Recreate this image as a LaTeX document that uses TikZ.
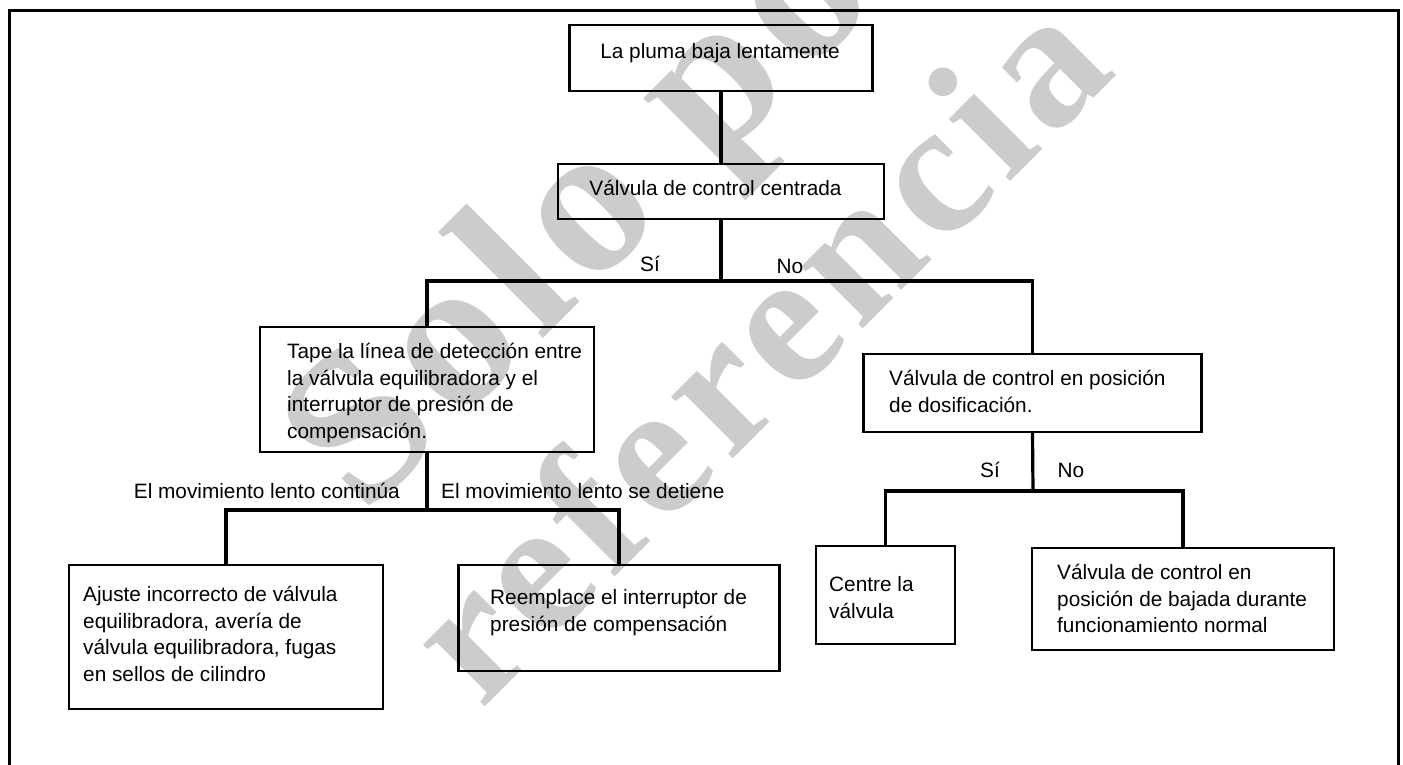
\documentclass[tikz,border=0pt]{standalone}
\usepackage{fontspec}
\setmainfont{Liberation Sans}
\newfontfamily\wmfont[LetterSpace=5]{Liberation Serif}
\begin{document}
\begin{tikzpicture}[x=1pt,y=-1pt,
  box/.style={draw, line width=2.4pt, inner sep=0pt},
  txt/.style={inner sep=0pt, align=left, font=\fontsize{20.8}{26.7}\selectfont},
  lbl/.style={inner sep=0pt, font=\fontsize{20.8}{26.7}\selectfont},
  conn/.style={line width=3.2pt, line join=miter},
  frame/.style={line width=3pt, line join=miter},
  wm/.style={text=gray!40, inner sep=0pt, rotate=45}]
\useasboundingbox (0,0) rectangle (1403,764);
% watermark
\node[wm, font=\wmfont\bfseries\fontsize{215}{215}\selectfont, anchor=base] (wm1) at (660,222) {Solo por};
\node[wm, font=\wmfont\bfseries\fontsize{190}{190}\selectfont, anchor=base] (wm2) at (800,392) {referencia};
% frame
\draw[frame] (9,770) -- (9,10) -- (1398,10) -- (1398,770);
% boxes
\node[box, minimum width=303pt, minimum height=66pt] (b1) at (721,58) {};
\node[lbl] (b1t) at (720,53) {La pluma baja lentamente};
\node[box, minimum width=326pt, minimum height=55pt] (b2) at (721,191.5) {};
\node[lbl] (b2t) at (715.5,188) {Válvula de control centrada};
\node[box, minimum width=334pt, minimum height=125pt] (tape) at (427,389.5) {};
\node[txt, anchor=west] (tapet) at (287,393) {Tape la línea de detección entre\\la válvula equilibradora y el\\interruptor de presión de\\compensación.};
\node[box, minimum width=338pt, minimum height=78pt] (pos) at (1032.5,393) {};
\node[txt, anchor=west] (post) at (889,391.5) {Válvula de control en posición\\de dosificación.};
\node[box, minimum width=314pt, minimum height=144pt] (ajuste) at (226,637) {};
\node[txt, anchor=west] (ajustet) at (83,634) {Ajuste incorrecto de válvula\\equilibradora, avería de\\válvula equilibradora, fugas\\en sellos de cilindro};
\node[box, minimum width=321pt, minimum height=106pt] (reempl) at (619,618) {};
\node[txt, anchor=west] (reemplt) at (490,612.5) {Reemplace el interruptor de\\presión de compensación};
\node[box, minimum width=139pt, minimum height=98pt] (centre) at (885.5,595) {};
\node[txt, anchor=west] (centret) at (829,597.5) {Centre la\\válvula};
\node[box, minimum width=302pt, minimum height=102pt] (vcen) at (1183,599) {};
\node[txt, anchor=west] (vcent) at (1057,598.5) {Válvula de control en\\posición de bajada durante\\funcionamiento normal};
% junctions
\coordinate (j1) at (721,281);
\coordinate (j2) at (427,510);
\coordinate (j3) at (1033,491);
% connectors
\draw[conn] (b1.south) -- (b2.north);
\draw[conn] (b2.south) -- (j1);
\draw[conn] (tape.north) -- (tape.north |- j1) -- (pos.north |- j1) -- (pos.north);
\draw[conn] (tape.south) -- (j2);
\draw[conn] (ajuste.north) -- (ajuste.north |- j2) -- (reempl.north |- j2) -- (reempl.north);
\draw[conn] (pos.south) -- (j3);
\draw[conn] (centre.north) -- (centre.north |- j3) -- (vcen.north |- j3) -- (vcen.north);
% labels
\node[lbl] (si1) at (650,264) {Sí};
\node[lbl] (no1) at (790,266) {No};
\node[lbl, anchor=east] (cont) at (400,491) {El movimiento lento continúa};
\node[lbl, anchor=west] (det) at (441,491) {El movimiento lento se detiene};
\node[lbl] (si2) at (990,470) {Sí};
\node[lbl] (no2) at (1071,470) {No};
\end{tikzpicture}
\end{document}
